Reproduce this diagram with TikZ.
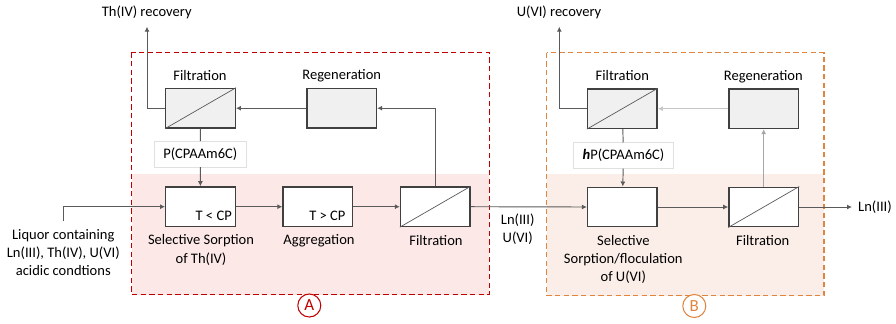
\documentclass[tikz,border=0pt]{standalone}
\usepackage{fontspec}
\setmainfont{Carlito}
\usepackage{tikz}
\usetikzlibrary{arrows.meta}
\usetikzlibrary{positioning}

\definecolor{boxc}{HTML}{404040}
\definecolor{linec}{HTML}{5A5A5A}
\definecolor{topfill}{HTML}{F0F0F0}
\definecolor{redA}{HTML}{C00000}
\definecolor{pinkA}{HTML}{FDE8E8}
\definecolor{orangeB}{HTML}{E0853F}
\definecolor{peachB}{HTML}{FBEEE8}

\tikzset{
  unit/.style={draw=boxc, line width=1.1pt, minimum width=2.09cm, minimum height=1.19cm, inner sep=0pt},
  topunit/.style={unit, fill=topfill},
  botunit/.style={unit, fill=white},
  polybox/.style={draw=black!12, fill=white, line width=0.6pt, minimum height=0.76cm, inner sep=2pt},
  lbl/.style={font=\fontsize{12.4}{15.6}\selectfont, align=center, inner sep=0pt},
  flow/.style={draw=linec, line width=0.8pt, -{Latex[length=1.5mm,width=1.5mm]}},
  link/.style={draw=linec, line width=0.8pt},
  membrane/.style={draw=linec, line width=0.6pt},
  zone/.style={dashed, line width=1.2pt, dash pattern=on 0.16cm off 0.1cm},
  tag/.style={circle, draw, line width=0.9pt, minimum size=0.69cm, inner sep=0pt, font=\fontsize{14.5}{16}\selectfont}
}

\begin{document}
\begin{tikzpicture}[x=0.03cm,y=-0.03cm]
        \useasboundingbox (0,0) rectangle (896,323);
        % Zones
        \fill[pinkA] (131.7,174) rectangle (489.3,294.7);
        \fill[peachB] (546.7,174) rectangle (824,295.7);
        \draw[zone, redA] (131.7,52.3) rectangle (489.3,294.7);
        \draw[zone, orangeB] (546.7,52.7) rectangle (824,295.7);
        \node[tag, draw=redA, text=redA, fill=white]     (zA) at (309.3,305.5) {A};
        \node[tag, draw=orangeB, text=orangeB, fill=white] (zB) at (694.3,306) {B};

        % Nodes
        \node[topunit] (fA1)  at (200.5,108.2) {};
        \node[topunit] (regA) at (341.7,108.2) {};
        \node[botunit] (sorA) at (200.5,206.7) {};
        \node[botunit] (aggA) at (317.8,206.7) {};
        \node[botunit] (fA2)  at (435.3,206.7) {};
        \node[polybox, minimum width=2.78cm] (pA) at (200.3,154.2) {\fontsize{12.4}{14}\selectfont P(CPAAm6C)};

        \node[topunit] (fB1)  at (622.3,108.7) {};
        \node[topunit] (regB) at (763.7,108.7) {};
        \node[botunit] (sorB) at (622.3,207) {};
        \node[botunit] (fB2)  at (763.7,207) {};
        \node[polybox, minimum width=2.99cm] (pB) at (623.5,155.5) {\fontsize{12.4}{14}\selectfont\textbf{\textit{h}}P(CPAAm6C)};

        \draw[membrane] (fA1.south west) -- (fA1.north east);
        \draw[membrane] (fA2.south west) -- (fA2.north east);
        \draw[membrane] (fB1.south west) -- (fB1.north east);
        \draw[membrane] (fB2.south west) -- (fB2.north east);

        % Labels
        \node[lbl] (lfA1)  at (200,76) {Filtration};
        \node[lbl] (lregA) at (341.7,75.5) {Regeneration};
        \node[lbl] (lsorA) at (201,250) {Selective Sorption\\of Th(IV)};
        \node[lbl] (laggA) at (319,241) {Aggregation};
        \node[lbl] (lfA2)  at (436,241) {Filtration};
        \node[lbl, anchor=east] (tA1) at (232,216) {T < CP};
        \node[lbl, anchor=east] (tA2) at (345.7,216) {T > CP};
        \node[lbl] (feedtxt) at (63.3,252.4) {Liquor containing\\Ln(III), Th(IV), U(VI)\\acidic condtions};
        \node[lbl] (recAtxt) at (146.7,12.7) {Th(IV) recovery};

        \node[lbl] (lfB1)  at (622.3,76) {Filtration};
        \node[lbl] (lregB) at (763.3,76.7) {Regeneration};
        \node[lbl] (lsorB) at (623.3,259.3) {Selective\\Sorption/floculation\\of U(VI)};
        \node[lbl] (lfB2)  at (762.7,241) {Filtration};
        \node[lbl] (midtxt) at (517.7,229.2) {Ln(III)\\U(VI)};
        \node[lbl] (recBtxt) at (559,12.7) {U(VI) recovery};
        \node[lbl, anchor=west] (outtxt) at (858,207) {Ln(III)};

        % Connectors
        \coordinate (feed) at (63.3,221);
        \coordinate (recA) at (147,26.7);
        \coordinate (recB) at (559.3,26.7);
        \coordinate (out)  at (852,207);

        \draw[flow] (feed) |- (sorA.west);
        \draw[flow] (sorA) -- (aggA);
        \draw[flow] (aggA) -- (fA2);
        \draw[flow] (fA2.east) -- (sorB.west);
        \draw[flow] (fA2.north) |- (regA.east);
        \draw[flow] (regA) -- (fA1);
        \draw[flow] (fA1.west) -| (recA);
        \draw[link] (fA1) -- (pA);
        \draw[flow] (pA) -- (sorA);

        \draw[flow] (sorB) -- (fB2);
        \draw[flow] (fB2.east) -- (out);
        \draw[flow, draw=black!35] (fB2) -- (regB);
        \draw[flow, draw=black!22] (regB) -- (fB1);
        \draw[flow] (fB1.west) -| (recB);
        \draw[link] (fB1) -- (pB);
        \draw[flow] (pB) -- (sorB);
    \end{tikzpicture}
\end{document}
